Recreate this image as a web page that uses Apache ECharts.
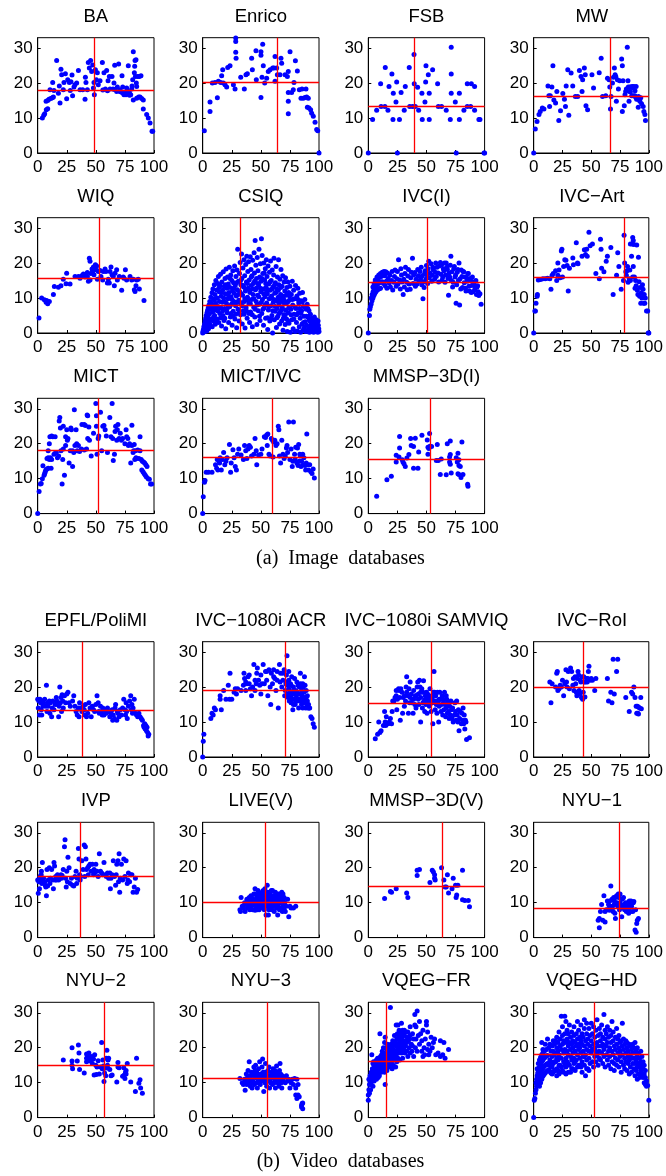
<!DOCTYPE html>
<html lang="en">
<head>
<meta charset="UTF-8">
<title>Databases scatter</title>
<script src="https://cdn.jsdelivr.net/npm/echarts@6/dist/echarts.min.js"></script>
<style>
  *{margin:0;padding:0;box-sizing:border-box}
  body{background:#fff}
  #main{width:666px;height:1176px}
</style>
</head>
<body>
<div id="main"></div>
<script>
var names = ["BA","Enrico","FSB","MW","WIQ","CSIQ","IVC(I)","IVC\u2212Art","MICT","MICT/IVC","MMSP\u22123D(I)",
  "EPFL/PoliMI","IVC\u22121080i ACR","IVC\u22121080i SAMVIQ","IVC\u2212RoI","IVP","LIVE(V)","MMSP\u22123D(V)","NYU\u22121",
  "NYU\u22122","NYU\u22123","VQEG\u2212FR","VQEG\u2212HD"]
var captions = ["(a)  Image  databases","(b)  Video  databases"]
var meanX = [48.7,64.2,39.5,66.1,53.3,32.3,50.4,78.4,52.4,59.7,53.6,38.4,71.1,54.4,43.1,36.4,53.7,63.9,74.4,57.6,55.4,15.5,52.3]
var meanY = [18.1,20.3,13.3,16.3,15.6,7.8,14.6,15.9,18.1,16.2,15.6,13.5,19,15.5,20,17.6,10,14.6,8.5,15,11.2,16.1,18]
var xTicks = [0,25,50,75,100]
var yTicks = [0,10,20,30]

// points of every database as x,y pairs
var BA = [4,10, 5.2,10.8, 6,11.2, 7.4,12.4, 8.6,12.7, 7.2,14.8, 8.6,15, 9.7,15.4, 11.2,15.6, 12.6,15.8, 13.5,16, 10.6,18.1, 12.9,20.2, 14,17.9, 16.3,26.5, 17.8,17.1, 18.6,19.2, 19.2,14.3, 20,24, 20.6,22.4, 22,18.1, 22.6,20.2, 23.8,22.7, 24.9,15.5, 25.8,21, 27.2,20.2, 28,17.9, 28.6,20.4, 29.5,22.3, 30,16.4, 31.2,18.9, 32,19.5, 33.5,20, 35,23.6, 36.4,18.1, 38.7,18.1, 40.7,15.4, 41,21.7, 41.5,20.2, 42.7,18.1, 43.5,25.9, 44.4,24.3, 45.5,26.5, 46.4,23.3, 47.3,25.2, 47.9,18.6, 48.4,20.2, 48.7,16.7, 49.6,23.8, 50.4,21, 51.3,23, 52.1,19.5, 53.6,20.7, 55.6,25.9, 57,23, 58.2,18.3, 59.3,23.6, 60.5,20.7, 61.6,21.9, 62.2,18.3, 63.9,21.9, 64.8,18.3, 65.6,20, 66.2,25.1, 67.9,17.6, 68.5,18.9, 69.6,25.5, 70.8,18.1, 72.5,22.1, 73.1,18.9, 74.2,16.7, 75.1,17.1, 75.9,16.7, 76.5,18.6, 77.1,17.9, 77.9,25, 78.8,17.3, 80,16.7, 80.8,18.3, 81.1,19.2, 81.7,21, 82.2,15.2, 82.2,29, 83.1,23, 83.4,24.8, 83.7,26.5, 84,21.9, 84.5,26.7, 84.8,20, 85.1,19, 85.1,15.7, 86,21.9, 86.8,16, 87.4,21.9, 88,16, 88.8,22.1, 89.4,15.6, 90.8,15.2, 90.8,12.6, 93.7,11, 95.1,10, 96.6,8.6, 98.3,6.2, 98.9,6.2, 56,18, 60,17.8, 66,18.2, 71,17.5, 73,17.2, 79,16.5]
var Enrico = [1.4,6.4, 6.3,11.9, 6.3,14.6, 8.3,20, 10.6,20.2, 12.6,15.8, 13.5,20.5, 15.5,20.2, 16.3,22.1, 17.2,23.8, 17.8,20, 19.2,19.5, 20.6,18.9, 21.5,24.5, 23.5,25, 26.4,19.5, 27.8,18.3, 28.4,32.9, 28.4,31.9, 28.4,28.8, 28.7,27.1, 32.7,21.7, 35.8,18.3, 37.2,22.4, 38.4,22.7, 42.1,27.1, 42.7,23.8, 45.8,29.3, 46.1,21, 50.1,29, 50.1,28, 50.1,15.9, 51,21.7, 51.6,31.1, 52.1,25, 53,33.1, 53.3,20, 55,21.4, 56.4,23.3, 57.9,23.8, 60.2,24.3, 61.3,24.3, 62.2,27.6, 62.2,20.5, 63.6,24.3, 64.2,22.4, 66.5,22.4, 67.3,27.1, 67.9,25.7, 70.8,22.4, 72.8,21.9, 73.6,23.3, 73.6,17.3, 73.6,14.8, 73.6,11.2, 75.1,29, 76.5,17.3, 77.9,18.1, 78.5,20.2, 79.7,26.4, 81.4,23.5, 83.1,18.1, 84.5,15.7, 85.4,18.3, 86.5,15.7, 88,15.9, 88.8,18.3, 89.4,16, 90.8,15.7, 90,13.1, 91.4,12.9, 92.8,12.4, 93.7,11.4, 95.1,10.5, 96.6,8.8, 98,6.7, 98.9,6.4, 100,0]
var FSB = [0,0, 3.7,9.6, 7.2,12.2, 10.6,19.8, 11,13.3, 14.3,13.3, 14.6,24.5, 16.9,12.2, 17.8,19, 20.3,22.6, 21.2,9.6, 21.5,17.1, 23.8,14.6, 24.4,20.3, 25,0, 26.8,9.6, 28.2,17.3, 30.9,12.2, 31.8,19, 35.2,24.5, 35.6,13.3, 38.1,13.3, 39.3,28.2, 39.5,19.8, 40.4,13.3, 42.4,18.8, 43.3,12.2, 46.1,17.1, 46.4,9.6, 48.7,14.6, 49.3,20.3, 49.6,25, 51.6,22.4, 52.4,9.6, 52.4,17.1, 55.3,23.8, 59.6,19.8, 60.2,13.3, 63,13.3, 67,12.2, 70.5,9.6, 71.3,30.3, 71.3,22.6, 71.3,17.1, 74.8,14.6, 75.6,0, 78.3,9.6, 78.3,17.1, 82.2,12.2, 85.1,19.8, 85.1,13.3, 88,13.3, 88.6,19.8, 91.4,19, 91.4,12.2, 95.1,9.6, 96,9.6, 100,0, 99.5,0]
var MW = [0,0, 1.4,6.9, 2.9,9, 4.6,11, 5.7,11.9, 7.5,12.9, 8.9,12.6, 12.4,19.2, 13.2,16.4, 14.4,16.4, 13.8,13.3, 15.8,18.9, 16.7,25, 17.5,15.2, 19,14.3, 20.1,17.6, 21.8,9.3, 23.3,12.1, 25.3,17, 26.7,15.4, 27.6,13.3, 28.2,19.2, 29.6,23.8, 30.5,10.8, 32.5,22.9, 33.9,19.2, 36.2,16.2, 38.2,16.2, 39.7,23.6, 41.1,21.9, 42,17.6, 42.5,21, 44,24.3, 44.8,22.4, 45.4,13.5, 46.8,12.4, 50.6,22.4, 52,18.6, 56.9,23, 58.6,27.1, 59.8,16.2, 62.6,16.4, 64.1,21.4, 65.5,21, 66.1,18.9, 66.7,12.6, 67.2,16.2, 68.4,20, 69.3,21.7, 70.1,24.3, 70.7,22.4, 71.3,21.9, 71.8,14.8, 72.7,21, 73.6,18.3, 74.7,20.7, 76.4,26.9, 77,25, 77,11.9, 77.6,20.7, 78.7,13.5, 79.3,16.7, 79.9,17.6, 80.5,18.3, 81.3,30.3, 81.9,20.7, 82.2,18.9, 82.8,14.8, 83.3,17.6, 83.6,18.9, 84.5,18.9, 85.1,16.4, 85.6,19, 86.5,16.4, 87.1,19, 87.9,16.4, 88.5,16, 89.4,15.4, 90.8,15.4, 90.8,13.1, 92.2,14.8, 93.7,14.1, 95.1,13.3, 95.7,11.9, 96.6,11, 97.1,9.3, 84,17.5, 86,18.7, 89,19, 91,16.2, 93,15.8, 88,17.8]
var WIQ = [1.1,4.3, 3.4,10, 5.7,9.5, 7.2,8.8, 8.6,8.4, 10,9, 7.7,9.3, 13.5,11, 14.3,13.3, 17.8,13.1, 20,13.5, 22,15.4, 24.9,17.1, 24.4,14.1, 27.8,14, 32.1,16.2, 35,16.2, 36.4,15.7, 37.8,16.4, 39.3,16.9, 40.7,16, 41.5,16.7, 42.7,17.3, 42.7,16.2, 43.6,14.8, 44.4,21.4, 45,20.5, 45,15.2, 45.8,17, 46.7,18.3, 47.3,17.6, 47.9,18.9, 48.4,16.7, 49,18.6, 49.6,19.5, 50.1,18.1, 50.7,19.2, 51.3,15.4, 52.1,17.6, 53.6,17.9, 54.4,16.2, 55.9,15.2, 56.4,17.6, 57.9,18.3, 58.7,17.6, 59.9,14.3, 60.7,15.4, 61.6,14.3, 62.2,17.6, 63,18.9, 63.9,16.7, 65,16.2, 65.9,13.5, 66.5,17.1, 67.9,18.1, 68.5,15.2, 70.2,16.2, 72.2,12.2, 73.6,16, 74.2,15.7, 75.4,18.1, 76.5,15.2, 79.4,16.2, 80.8,15.2, 82.2,15.4, 83.1,12.4, 83.7,11.9, 84.5,13.5, 85.1,15.2, 86.5,15.4, 87.4,12.6, 91.4,9.3]
var CSIQ = [0,0, 0.3,0.5, 0.6,1, 0.8,0.3, 1,1.8, 1.2,0.8, 1.5,2.6, 1.7,1.3, 2,3.4, 2.2,0.5, 2.4,2, 2.6,4.2, 2.8,1.2, 3,5, 3.2,2.8, 3.5,0.6, 3.7,5.8, 3.9,3.5, 4.2,6.5, 4.4,2, 4.6,4.5, 4.8,7.2, 5,1.2, 5.2,3.2, 5.4,8,
  5.8,5.5, 6.1,9, 6.4,2.5, 6.8,6.8, 7,10.2, 7.3,4, 7.6,8.3, 8,11.5, 8.2,1.8, 8.5,6, 8.8,12.6, 9,3.5, 9.3,9.5, 9.6,7.5, 10,13.8, 10.2,5, 10.5,11, 10.8,2.5, 11,8.5, 11.3,15, 11.6,6.5, 12,12.3, 12.3,4, 12.6,10, 12.9,14.2, 13.2,7.6, 13.5,16.2, 13.8,3, 14.1,11.8, 14.4,9, 14.7,5.6, 15,13.5,
  15.3,16.8, 15.6,7.2, 15.9,10.5, 16.2,2, 16.5,14.6, 16.8,8.8, 17.1,12.2, 17.4,5, 17.7,17.5, 18,10, 18.3,3.6, 18.6,13.3, 18.9,7, 19.2,15.6, 19.5,11.2, 19.8,1.2, 20.1,18.3, 20.4,8.5, 20.7,12.8, 21,5.8, 21.3,16, 21.6,9.8, 22,14, 22.3,3, 22.6,11.6, 22.9,18.8, 23.2,7.5, 23.5,13, 23.8,4.6, 24.1,16.6, 24.4,10.4, 24.7,8.2, 25,15, 25.3,2.2, 25.6,12, 25.9,17.8, 26.2,6.2, 26.5,14.4, 26.8,9, 27.1,11.4, 27.4,19.2, 27.7,4, 28,13.6, 28.3,7.8, 28.6,16.2, 28.9,10.6, 29.2,1.5, 29.5,18, 29.8,12.4, 30.1,24, 30.4,6.8, 30.7,14.8, 31,9.4, 31.3,3.4, 31.6,17, 31.9,11.8, 32.2,20.2, 32.5,5.2, 32.8,13.8, 33.1,8.2, 33.4,22.6, 33.7,15.6, 34,2.6,
  34.3,10.8, 34.6,18.6, 34.9,6.4, 35.2,13.2, 35.5,21, 35.8,9, 36.1,16.4, 36.4,1.4, 36.7,12, 37,19.6, 37.3,7.2, 37.6,14.6, 37.9,22, 38.2,4.2, 38.5,10.2, 38.8,17.6, 39.1,12.8, 39.4,20.4, 39.7,8.4, 40,15.2, 40.3,3, 40.6,11.6, 40.9,21.8, 41.2,6, 41.5,18.2, 41.8,13.6, 42.1,9.6, 42.4,16.4, 42.7,1.8, 43,20.8, 43.3,11, 43.6,14.2, 43.9,7.4, 44.2,23, 44.5,17.2, 44.8,4.6, 45.1,26.5, 45.4,12.4, 45.7,19.4, 46,9, 46.3,15.6, 46.6,2.4, 46.9,21.6, 47.2,10.8, 47.5,17.8, 47.8,6.4, 48.1,13.8, 48.4,24, 48.7,8.2, 49,16, 49.3,3.6, 49.6,19.8, 49.9,11.8, 50.2,14.8, 50.5,27, 50.8,5.6, 51.1,22.2, 51.4,9.6, 51.7,17, 52,12.6, 52.3,2.2, 52.6,20, 52.9,7.2, 53.2,15.2, 53.5,10.4, 53.8,18.4, 54.1,4.2, 54.4,13, 54.7,21,
  55,8.6, 55.3,16.2, 55.6,11.2, 55.9,1, 56.2,19.2, 56.5,6.6, 56.8,14, 57.1,9.8, 57.4,17.4, 57.7,3.4, 58,12.2, 58.3,20.6, 58.6,7.8, 58.9,15, 59.2,10.6, 59.5,5, 59.8,18, 60.1,0, 60.4,13.2, 60.7,8.8, 61,16.6, 61.3,21.4, 61.6,3.8, 61.9,11.4, 62.2,6.2, 62.5,14.4, 62.8,9.4, 63.1,19, 63.4,1.6, 63.7,12.6, 64,7, 64.3,16, 64.6,4.8, 64.9,10.2, 65.2,21, 65.5,13.8, 65.8,8, 66.1,2.6, 66.4,15.4, 66.7,6, 67,11, 67.3,18.2, 67.6,9, 67.9,3.4, 68.2,13.4, 68.5,7.2, 68.8,16.4, 69.1,0.8, 69.4,10.4, 69.7,5.2, 70,14.6, 70.3,8.4, 70.6,12, 70.9,2.4, 71.2,15.8, 71.5,6.6, 71.8,10.8, 72.1,4, 72.4,13, 72.7,0.4, 73,8.8, 73.3,14.6, 73.6,5.8, 73.9,11.6, 74.2,2.8, 74.5,9.4,
  75,13.4, 75.4,0.2, 75.8,6.8, 76.2,11, 76.6,3.8, 77,14.8, 77.4,8, 77.8,1.2, 78.2,12.2, 78.6,5.4, 79,9.8, 79.4,0.4, 79.8,13.6, 80.2,7, 80.6,3, 81,10.6, 81.4,0.6, 81.8,12.8, 82.2,5.8, 82.6,8.6, 83,1.8, 83.4,11.4, 83.8,4.2, 84.2,0.2, 84.6,9.2, 85,6.4, 85.4,2.6, 85.8,11.6, 86.2,0.8, 86.6,7.6, 87,4.8, 87.4,1.6, 87.8,9.6, 88.2,3.2, 88.6,0.4, 89,6.8, 89.4,2.2, 89.8,8.2, 90.2,0.6, 90.6,4.6, 91,1.2, 91.4,6.4, 91.8,0.2, 92.2,3.4, 92.6,5.4, 93,0.8, 93.4,2.8, 93.8,4.2, 94.2,0.4, 94.6,1.8, 95,3.6, 95.4,0.2, 95.8,2.6, 96.2,1, 96.6,3.2, 97,0.4, 97.4,1.6, 97.8,2.4, 98.2,0.6, 98.6,1.8, 99,0.2, 99.4,2.2, 99.8,1.2, 100,0.4,
  6,3.8, 7.9,7, 9.4,4.6, 10.6,9.8, 11.8,3.2, 13,6.4, 14.2,13, 15.4,4.4, 16,11.6, 17.2,6.4, 18.4,9, 19,4.2, 19.6,13.8, 20.8,6.8, 21.4,11, 22.1,7.6, 23,10, 23.6,15.6, 24.2,5.6, 25.2,9.6, 26,4.8, 26.6,12.8, 27.6,8.4, 28.4,5.4, 29,14.4, 29.8,8.8, 30.6,11, 31.2,5.8, 32,8.8, 32.6,15, 33.2,11.2, 34,7.8, 34.8,13.6, 35.6,5.4, 36.2,9.8, 37,12.6, 37.8,6.2, 38.4,14.2, 39,9.4, 39.8,5.6, 40.4,12.2, 41,8.4, 41.8,16, 42.6,5.2, 43.2,12.6, 44,9.8, 44.6,14.8, 45.2,6.8, 46,12.8, 46.8,8, 47.4,14.2, 48.2,10.4, 48.8,4.8, 49.6,12.8, 50.4,8.8, 51,15.6, 51.8,6.8, 52.4,11.2, 53,17.2, 53.6,8, 54.2,14.2, 55,11.8, 55.8,4.4, 56.4,12.4, 57,7.6, 57.8,14.6, 58.4,10, 59,4, 59.6,12.6, 60.2,6.4, 61,9.6, 61.8,13.8, 62.4,7.6, 63,11.6, 63.8,4.4, 64.4,9, 65,12.2, 65.6,5.6, 66.4,9.8, 67.2,13, 67.8,6.6, 68.6,10.6, 69.4,4.2, 70.2,9.4, 71,5.2, 71.8,8.6, 72.6,11, 73.4,3.4, 74,7.2, 74.8,10.6, 76,5.2, 77.2,9.6, 78.4,4, 79.6,7.4, 80.8,5.2, 82,9.6, 83.2,7, 84.4,5.6, 85.6,8.8, 86.8,3, 88,7.4, 89.2,4.8, 90.4,7, 91.6,3.8, 92.8,2, 94,3.2, 96,4.6, 97.6,3.8, 99.2,3.4]
var IVC_I = [0,0, 1,5, 1.3,6.8, 1.8,7.5, 2.5,8.3, 3.2,9.2, 4,10, 4.8,10.7, 5.6,11.3, 6.5,11.8, 7.5,12.2, 8.5,12.5, 9.5,12.7, 10.5,12.8,
  2.5,10, 3.3,11, 4.1,11.8, 5,12.5, 6,13.1, 7,13.6, 8,14, 9,14.3, 10,14.5, 11,14.6, 12,14.7,
  4,13.2, 5,14, 6,14.6, 7,15.1, 8,15.5, 9.5,15.9, 11,16.2, 12.5,16.4, 14,16.4,
  6,15.2, 7.5,16, 9,16.6, 10.5,17, 12,17.4, 13.5,17.6, 15,17.5, 16.5,17.2,
  13,14.2, 14.5,13.5, 15.5,14.8, 16,12.8, 17,15.6, 18,14.3, 18.5,16.5, 19,13.2, 20,15, 20.5,17.6, 21,12.3, 22,14.5, 22.5,16.2, 23,18, 24,13.4, 24.5,15.5, 25,17.6, 25.5,14, 26,21, 27,15.2, 27.5,12.6, 28,18.4, 28.5,16.6, 29,14.6, 30,11, 30.5,15.4, 31,13.2, 31.5,17, 32,18.8, 33,14.5, 33.5,12.4, 34,16.3, 34.5,18.2, 35,14, 36,12.5, 36.5,15.8, 37,17.4, 38,21.4, 38.5,14.2, 39,16.6, 40,17.3, 40.5,13.4, 41,15.4, 42,14, 42.5,18.2, 43,16.4, 44,14.8, 44.5,17.6, 45,15.6, 45.5,18.8, 46,13.8, 46.5,16.4, 47,9.8, 47.5,14.6, 48,13, 48.5,17, 49,17.8, 49.5,15.4, 50,19.3, 50.5,16.6, 51,14.2, 51.5,18.4, 52,20.5, 52.5,15.8, 53,17.2, 54,19.8, 54.5,14.8, 55,16.5, 55.5,18.8, 56,18, 57,15.4, 57.5,17.4, 58,20, 58.5,16.2, 59,18.8, 60,17.2, 60.5,14.6, 61,19.2, 62,20.2, 62.5,16.8, 63,19.5, 63.5,15.2, 64,16, 64.5,18.4, 65,17.8, 65.5,20, 66,14.5, 66.5,16.6, 67,20, 67.5,18.8, 68,18.2, 68.5,15.6, 69,10.8, 69.5,17.2, 70,16, 70.5,19.4, 71,22, 71.5,15, 72,17.5, 72.5,13.2, 73,14.5, 73.5,18.4, 74,19, 74.5,16, 75,16.5, 75.5,8.5, 76,13.8, 76.5,17.4, 77,18.2, 77.5,15, 78,20, 78.5,8, 79,15.5, 79.5,12.6, 80,18, 80.5,16.2, 81,13, 81.5,17.6, 82,17.5, 82.5,14.4, 83,16, 83.5,12.8, 84,12, 84.5,15.8, 85,14.8, 85.5,17, 86,17, 86.5,13.4, 87,12, 87.5,15.6, 88,15, 88.5,11.6, 89,13.6, 89.5,16, 90,11.8, 90.5,14.6, 91,14, 91.5,12.4, 92,13, 92.5,15, 93,11, 93.5,13.2, 94,13.5, 94.5,11.8, 95,10.7, 96,11.2, 97,8.2]
var IVC_Art = [0,0, 1,6.3, 1.5,6.3, 2,8.5, 3,10.5, 3.2,11, 4,15.2, 6,15.3, 8,15.5, 10,15.5, 12,15.7, 14,15.5, 15,12.5, 16,16.5, 17,17, 19,17.8, 20,15, 21,20, 21,16.5, 22,18, 23,15.8, 24,23.5, 24.5,24, 25,16, 26,19, 27,21, 28,20.8, 29,19.3, 30,12, 31,18.5, 34,21.5, 34.5,19.5, 37,25.8, 38,20, 38.5,19.8, 42,22, 44,23.8, 45,22.5, 46,24, 46.5,22, 48,28.8, 49,25, 51,25.5, 54,17, 57,15.5, 58,26.8, 58.5,24, 59,18.5, 61,17.5, 63,20.5, 64,22, 67,24.5, 69,11, 72,16.5, 73,23, 74,19, 76,12.5, 78,15, 78.5,28, 79,20, 80,17.5, 80.5,16.5, 81,17.8, 81.5,19, 82,14.5, 83,15.5, 84,25.5, 85,22, 85.5,25.5, 86,27.3, 86.5,26.5, 87,25.3, 87.5,16, 88,12.8, 88.5,15, 89,13.5, 89.5,25.2, 90,12.2, 90.5,11, 91,21.7, 91.5,14.7, 92,10.5, 92.5,13, 93,8.5, 93.5,11.5, 94,10, 94.5,13.8, 95,12.5, 95.5,8.5, 96,11, 96.5,8.5, 97,10, 98,6.3, 99,6.3, 100,0, 99.5,0, 83.5,18, 86.5,19, 84,15, 86,16]
var MICT = [0,0, 1.2,6.3, 2.3,8.5, 3,8.6, 4,10, 4.5,13.7, 5.5,11, 6,11.5, 6.5,12, 7,12.5, 8,12.8, 9,13, 8,15.8, 9,16, 10,15.5, 11,16, 12,15.5, 11.5,13, 9,18, 10,20, 10.5,22, 12,22.2, 13,22, 14,17, 15,22, 15.5,17.5, 16,17.5, 17,16, 18,16.5, 18.5,26.5, 19,27.5, 19.5,24.5, 20,18, 21,8.5, 21.5,15.5, 22,18.5, 22,25, 23,11, 24,19.5, 24,22, 25,24, 25.5,21, 26,21.5, 27,14.5, 28,18, 28.5,24.5, 29,24, 30,13.5, 31,17.5, 31.5,29.7, 32,19.5, 33,24, 33.5,20, 34,18, 35,19.5, 36,17.8, 37.5,18.5, 38,25.5, 40,25.5, 41,25.2, 42,18.5, 42.5,28.2, 43,28, 43,21.5, 44,24.8, 44.5,21, 46,16.5, 48,23, 50,31.5, 50.5,28, 50.5,25, 51,17, 52,21.5, 52.5,22.2, 54,29, 56,25, 57,25.2, 58,24, 59,22.2, 62,27.5, 63,22, 64,31.5, 64.5,21.5, 65,15.2, 66,17, 66.5,23.5, 67,25, 68,21, 68.5,24, 69,25.5, 70,21.5, 71,23, 72,21, 73,21.5, 75,20, 76,24, 76.5,22, 77.5,21.5, 78,19.5, 79,20, 80,14.5, 81,25.3, 81,19.5, 82,17.5, 82.5,18, 83,19.8, 83.5,15.5, 84,18, 84.5,16, 85,15.8, 86,18.2, 87,15.8, 88,18, 88,22, 89,15.5, 89.5,12.5, 90,15, 90.5,12, 91,14.8, 91.5,11.5, 92,14.5, 92.5,11, 93,14, 93.5,10.5, 94,13.5, 95,10, 96,9.8, 97,8.5, 98,8.5, 30,18, 40,18.2, 55,18, 60,17.5]
var MICT_IVC = [0,0, 0.5,4.8, 1.5,9, 2,9.5, 3,11.8, 5,11.8, 8,11.8, 11,14, 12,13, 12.5,15.5, 13,12.5, 14,15, 14.5,14.5, 15,16, 16,12.5, 17,15.5, 18,17.5, 19,14, 20,15, 21,16, 23,19.8, 24,11.8, 24.5,14.5, 26,18.3, 27,16, 28,13.5, 29,12.5, 30,17, 31,18.5, 33,16.8, 35,15.5, 36,19.5, 37,18, 38,15.8, 39,18.5, 40,19.5, 41,19, 42,16.5, 44,17, 45,21.5, 46,18, 46.5,14, 48,16.8, 50,17, 51,18.5, 53,22, 54,21.8, 55,22.5, 55.5,19.5, 56,22.8, 57,17, 58,16.5, 59,21.5, 60,21, 60.5,16.2, 61,20.5, 62,21, 63,19.5, 64,20, 65,25, 65.5,24, 66,16.5, 67,14.5, 68,21, 69,17, 70,15.8, 71,16.5, 72,18.8, 72.5,19.5, 73,17.5, 74,26.2, 75,15.5, 76,18.5, 77,13.5, 77.5,15, 78,26.2, 79,17, 79.5,15.5, 80,19, 81,14.5, 81.5,18.8, 82,13.8, 82.5,19.8, 83,15, 83.5,17, 84,16.5, 84.5,13.5, 85,15, 86,17, 86.5,14, 87,16, 88,13.8, 88.5,12.5, 89,14.5, 89.5,22.8, 90,14, 91,12.5, 92,14, 93,12, 94,11.5, 95,12.8, 96,10.2]
var MMSP_I = [7.2,5, 16,9.7, 19.8,10.7, 24,14.8, 24,16.7, 26.4,16.2, 26.9,18.8, 26.9,22.1, 29.2,15.4, 29.8,14.8, 30.7,14.3, 31.8,13.5, 33.2,15.9, 34.9,16.9, 36.4,21.5, 36.9,19.5, 38.9,19.2, 38.9,13, 40.4,21.6, 42.7,13, 43.3,17.6, 46.1,22.4, 50.7,21.1, 51.3,19, 51.3,17, 52.1,18.6, 52.7,22.9, 53,19.3, 54.4,19.2, 58.5,15.2, 59.3,19.8, 60.2,15.2, 61.9,11.2, 62.7,15.6, 67,11.1, 67.9,20, 70.5,20.8, 69.9,16.2, 69.9,14.8, 70.5,14.1, 71.3,11.6, 70.5,16.9, 75.6,16, 76.5,14.8, 77.1,17.3, 77.9,15.4, 77.9,13.8, 79.1,13.5, 77.1,11.4, 77.9,11.2, 79.7,10.3, 80.5,20.5, 81.4,11.2, 85.4,8.4, 85.7,7.8]
var EPFL = [0,16.5, 0.5,14, 1,16, 1.5,12, 2,16.5, 2.5,15.5, 3,13.5, 3.5,12, 4,16, 4.5,14.5, 5,15.5, 6,16.5, 7,14.5, 7.5,20.5, 8,13, 8.5,15.5, 9,14.5, 10,16, 10.5,12.5, 11,15.5, 12,11.5, 12.5,14, 13,16, 14,13.5, 15,15, 16,17, 16.5,16, 17,15, 18,11.5, 18.5,14.5, 19,20, 19.5,15.5, 20,17, 20.5,13, 21,17.8, 21.5,16, 22,14, 23,17.5, 24,15.5, 25,18, 26,18.5, 27,15.5, 28,14.5, 30,16, 31,17.5, 32,14.5, 33,13, 34,12, 35,14, 35.5,11.5, 36,15.5, 37,14, 38,13, 39,14.5, 40,13.5, 40.5,12, 41,15, 42,11.5, 43,12.5, 44,15.5, 45,14, 46,11.5, 47,14.5, 48,13.5, 49,13, 50,15, 51,17.5, 52,15.5, 52.5,13, 53,12.5, 54,14.5, 55,13, 55.5,12, 56,14, 57,12, 58,13.5, 59,12.5, 60,14, 61,13, 62,11.5, 63,12.5, 64,13.5, 64.5,10.5, 65,12, 66,11, 66.5,14, 67,15, 68,10.5, 68.5,13, 69,12.5, 70,11.5, 71,13.5, 72,12, 73,14, 74,16.5, 75,13.5, 75.5,12, 76,15.5, 76.5,13, 77,11, 78,14.5, 79,16, 80,17.5, 80.5,13.5, 81,15, 81.5,12.5, 82,14, 83,16.5, 84,12.5, 85,12, 86,11.5, 87,12.5, 88,11.5, 89,11, 90,10.5, 91,9, 91.5,8.5, 92,9.5, 92.5,8, 93,9, 93.5,7.5, 94,8.5, 94.5,7, 95,6, 95.5,6.5]
var ACR = [0,0, 0.5,4.5, 1,6.5, 7,11, 8,12.5, 9,12, 10,14, 11,13.5, 15,16.5, 15,17.5, 16,13.5, 18,19, 20,16.5, 22,20.5, 23,16.5, 23.5,24, 25,16.5, 27,18.5, 28,19.5, 29,18, 30,19.5, 33,19, 35,20.5, 35.5,24, 36,22.5, 37,19, 38,21, 39,23, 40,23.5, 41,19.5, 42,17.5, 43,20, 44,26.5, 45,19, 46,21, 46.5,24, 47,25.5, 48,22, 49,20.5, 50,18, 51,21, 52,26.5, 53,21, 54,24.5, 55,22, 56,17.5, 57,25, 58,20, 58.5,15, 59,24, 60,21, 61,25, 62,22.5, 63,19, 64,24.5, 65,14, 66,26.5, 66.5,21.5, 67,24, 68,20, 69,22, 70,25, 70.5,17.5, 71,19, 72,23.5, 72.5,29, 73,20.5, 73.5,17, 74,22, 74.5,16, 75,18.5, 75.5,21, 76,15.5, 76.5,23, 77,18, 77.5,13.5, 78,20, 78.5,16.5, 79,22.5, 79.5,15, 80,19, 80.5,17, 81,21.5, 81.5,16, 82,18, 82.5,14, 83,20, 83.5,16.5, 84,24, 84.5,18, 85,15, 85.5,17.5, 86,14, 86.5,20, 87,16, 87.5,23, 88,15.5, 88.5,14, 89,17, 89.5,14.5, 90,16, 90.5,14, 91,15, 91.5,14, 92,14, 93,11.5, 94,11, 95,9.5, 96,8.5,
  71.5,21, 73,18, 74,19.5, 76,20.5, 77,16.5, 78,19, 79,18, 80,16, 81,18.5, 82,20.5, 83,18, 84,16, 85,19, 86,17, 87,18.5, 88,17, 89,19, 90,17.5, 76,17.5, 78,15, 82,16.5, 84,21, 86,21, 88,20.5, 72,21.5, 74,24.5, 69,24, 64,22, 61,23, 55,24.5, 50,23.5, 45,22, 40,21, 37,21.5]
var SAMVIQ = [6,5.2, 8,6.5, 9,10, 10,7, 11,7.5, 13,9, 14,13, 14.5,10, 15,9, 15.5,11.5, 17,9.5, 18,10, 19,11, 20,9.5, 20.5,13, 21,16, 22,16, 23,17, 24,17.5, 24,19, 24.5,13.5, 25,16.5, 26,19.5, 26.5,19, 27,17, 27.5,10.5, 28,19.5, 29,18.5, 29.5,12.5, 30,17, 31,14.5, 32,16, 32.5,20, 33,23, 34,17.5, 34.5,12.5, 35,19.5, 35.5,15.5, 36,21.5, 37,18, 38,16.5, 38.5,12.5, 39,19, 40,15, 40.5,17.5, 41,14, 42,20, 42.5,21.5, 43,18, 43.5,15, 44,22, 44.5,20, 45,17, 45,10, 46,19.5, 46.5,14, 47,18.5, 47.5,21.8, 48,16, 48.5,13, 49,17.5, 49.5,15, 50,18.5, 50.5,12.5, 51,16.5, 51.5,15.5, 52,17, 52.5,14.5, 53,19.5, 53.5,16, 54,13, 54.5,17.5, 55,15.5, 55.5,9.5, 56,18.5, 56.5,24.5, 57,16, 57.5,13.5, 58,17.5, 58.5,15, 59,12.5, 59.5,18.5, 60,16, 60.5,10, 61,14.5, 61.5,18.5, 62,16.5, 62.5,13, 63,15, 63.5,17.5, 64,12, 64.5,16.5, 65,13.5, 65.5,18.5, 66,15, 66.5,11.5, 67,14, 67.5,16.5, 68,12.5, 68.5,15.5, 69,13, 69.5,11, 70,14.5, 70.5,12, 71,16, 71.5,13.5, 72,11, 72.5,14, 73,10, 74,12, 74.5,15.5, 75,13, 75.5,10.5, 76,16, 76.5,12, 77,10, 77.5,13.5, 78,7.5, 78.5,11, 79,13, 80,9.5, 80.5,12.5, 81,10.5, 81.5,14, 82,9.5, 82.5,12, 83,8, 83.5,10.5, 84,10, 84.5,5, 87,5.5,
  31,17.5, 33,18.5, 36,17, 37,15.5, 39,16.5, 41,17.5, 43,16.5, 45,18.5, 47,15.5, 49,16.5, 51,18, 53,15, 55,17, 57,18.5, 59,16, 61,16.5, 63,16.5, 65,15.5, 67,17.5, 69,15]
var RoI = [14,21.5, 15,15.5, 16,21, 19,20, 20,24, 20.5,24.5, 21,19, 22,19.5, 23,20.5, 24,20, 25,22, 26,17.5, 27,21, 28,25, 28.5,21.5, 29,20, 30,24.5, 31,19.5, 32,25.5, 33,24.5, 34,20.5, 34.5,22.5, 35,19, 36,23, 36.5,21, 37,18.5, 37.5,17.5, 38,22.5, 38.5,24.5, 39,23.5, 39.5,19, 40,18, 40.5,22, 41,21.5, 41.5,17, 42,23, 42.5,16.5, 43,18.5, 43.5,23, 44,21.5, 44.5,17.2, 45,21.5, 46,22.5, 46.5,21.5, 47,22.5, 47.5,24.5, 48,26, 49,22, 50,22.5, 51,22, 53,19, 54,22.5, 64,22.5, 65,16, 67,18.5, 68,15.5, 69,28, 70,18, 72,24.5, 73,28, 80,17, 83,13, 85,18.5, 86,18, 87,20, 88,17, 89,14.5, 89.5,12.5, 90,14.5, 90.5,12.5, 91,14.3, 92,14, 93,17, 93.5,13.8, 91,12.3]
var IVP = [0,16.5, 0.5,12.7, 1,16, 1.5,14, 2,17.5, 2.5,16.5, 3,18, 3.2,19, 3.5,15.5, 4,21.5, 4.5,16, 5,17, 6,16, 6.5,15, 7,14.5, 7.5,12, 8,19.5, 8.5,14.8, 9,16.5, 10,20, 10.5,15.5, 11,17, 12,19.5, 13,16.5, 13.5,14, 14,21.5, 14.5,20.5, 15,16.5, 15.5,17.5, 16,16.5, 17,18, 18,16.5, 19,17, 20,18, 20.5,17, 21,17.8, 22,19.5, 23,26, 23.5,28, 24,17, 24.5,14.5, 25,19, 25.5,16, 26,23, 27,20, 28,15.5, 29,17, 30,15, 31,14.8, 32,17.5, 33,19, 33.5,15.5, 34,17, 35,25.5, 35.5,22.5, 36,18, 36.5,16.5, 37,17.5, 38,22, 39,19.5, 40,26.5, 40.5,17.5, 41,26, 41.5,22.5, 42,19.5, 43,20, 43.5,18, 44,20.5, 45,21, 46,19, 47,21, 48,18, 48.5,19.5, 49,18.5, 50,21, 51,19, 52,17.5, 53,24, 54,19, 55,18.5, 56,18, 57,21.5, 58,18, 59,17.5, 60,18.5, 61,17, 62,18.5, 62.5,14, 63,17, 64,18, 65,22, 66,17.5, 67,15, 67.5,18, 68,21, 69,22, 69.5,16, 70,24, 70.5,13, 71,17, 72,21, 73,16.5, 74,22.5, 75,17.5, 76,22, 77,15.5, 77.5,16.5, 78,18.5, 79,16, 80,18, 81,18, 82,13, 83,14.5, 84,17, 85,13, 86,13.8]
var LIVE = [32,8, 32.5,7.5, 33,11.5, 34,9, 35,8.5, 36,10, 36.5,7.5, 37,9.5, 38,11, 38.5,8.5, 39,10.5, 39.5,9, 40,11.5, 40.5,8, 41,10, 41.5,12, 42,9, 42.5,10.5, 43,8, 43.5,11, 44,12.5, 44.5,9.5, 45,14, 45.5,10.5, 46,8.5, 46.5,12, 47,9.5, 47.5,13.5, 48,11, 48.5,8, 49,10, 49.5,12.5, 50,9, 50.5,11, 51,13, 51.5,8.5, 52,10.5, 52.5,12, 53,9.5, 53.5,14, 54,11, 54.5,6.5, 55,9, 55.5,15, 56,11.5, 56.5,6.5, 57,10, 57.5,12.5, 58,9, 58.5,11, 59,13.5, 59.5,8, 60,10.5, 60.5,12, 61,9.5, 61.5,7.5, 62,11, 62.5,13, 63,10, 63.5,8.5, 64,12, 64.5,6.5, 65,9.5, 65.5,11, 66,10, 66.5,12.5, 67,8.5, 67.5,10.5, 68,13, 68.5,7.5, 69,9, 69.5,11, 70,8, 70.5,10, 71,7.5, 72,9, 73,11, 74,6, 75,9, 76,8.5, 78,8.5, 80,9,
  40,9.5, 42,11.5, 44,10.5, 45,7.8, 46,10, 47,11.5, 48,9.5, 49,12, 50,10, 51,11, 52,8.5, 53,11.5, 54,9.5, 55,12.5, 56,9, 57,11, 58,12.5, 59,10, 60,9, 61,11.5, 62,9, 63,11.5, 64,9.5, 65,12.5, 66,8, 67,10, 68,11, 69,12.5, 70,11.5, 43,10, 45,12.5, 47,8, 49,8.5, 51,9.5, 53,8, 55,10.5, 57,8, 59,11.5, 61,10, 63,9, 65,10.5, 67,11.5, 46,11, 48,12.5, 50,12.5, 52,13.5, 54,12.5, 56,13, 58,10.5, 60,13.5, 62,12, 64,10.5]
var MMSP_V = [14,11.2, 19,13.2, 20,13, 24,14, 33,12.8, 34,11.5, 42,19.3, 42,17.8, 44,19.5, 53,15.8, 55,19.3, 56,18.8, 57,18, 57,17, 57.5,16.5, 63,20, 65,16.5, 67,14.5, 68,18, 69,12.8, 72,14, 73,17, 75,15, 75.5,11.5, 76,12.2, 77,15, 81,19.3, 81,10.8, 83,10.6, 86,10.6, 87,8.8, 66,14.5]
var NYU1 = [56,5, 57,5.5, 57,2.8, 58,7.5, 59,9.5, 60,5, 61,12, 62,4.5, 62,7.5, 63,8, 64,10.5, 64.5,8, 65,9.5, 66,10.5, 66,7.8, 67,14.8, 67,8.5, 68,11, 68.5,9, 69,7.5, 69.5,11.5, 70,9.5, 70.5,7, 71,11.5, 71,5.5, 72,10, 72,12, 73,9, 73.5,12.5, 74,11.5, 74.5,8, 75,12.5, 75,10, 76,9, 76.5,6, 77,11, 77.5,8.5, 78,11.5, 78.5,9.5, 79,8, 80,10, 80.5,7.5, 81,9, 81.5,8.5, 82,10, 82.5,7, 83,9.5, 84,7.5, 84.5,10.5, 85,9, 86,7.5, 86.5,10, 87,10.3, 88,2.2, 89,1.5, 89.5,4, 90,5, 91,5.5, 88.5,8, 79.5,9.7, 82,8.3, 83,10.5, 85.5,10, 73,9.8, 70,10.5, 68,8, 66,9]
var NYU2 = [22,16.5, 29.5,16.2, 29.5,20, 29.5,15, 30,14, 34,16.2, 35,20.8, 35.5,18.5, 36,13.8, 40,12.8, 42,16, 42,17, 43,17.5, 44,18.5, 44.5,17, 45,16.2, 46,16.5, 46.5,17.5, 47,15.5, 48,16.8, 48.5,12.2, 49,18, 50,15, 50.5,12.3, 51,14.5, 52,16.3, 53,12.5, 55,21.5, 55.5,14, 56,16.5, 56.5,14.8, 57,10.3, 57.5,12.8, 58,14.2, 58.5,12, 59,17, 59.5,19.3, 60,15, 60.5,16.5, 61,17, 62,13.8, 63,12, 64,12.2, 68,10.2, 69,14.5, 69,15.8, 70,14.3, 74,14.3, 74.5,12.2, 75,11.2, 75.5,13, 76,12.5, 77,15.5, 80,10.2, 84,7.5, 85,17, 87,9.8, 88,10.8, 88.5,8.5, 90,7, 42,18.2, 44,16.8, 54,14.5, 60,14.2, 73,11.8, 76,13.5]
var NYU3 = [32,11.2, 34,10, 35,9.5, 36,11, 36.5,7.8, 37,10.2, 37.5,12.5, 38,9.5, 38.5,11.5, 39,13.5, 39.5,10, 40,16, 40.5,12, 41,9, 41.5,11, 42,13, 42.5,8.5, 43,10.5, 43.5,12.5, 44,14.5, 44.5,9.5, 45,11.5, 45.5,15, 46,10, 46.5,13, 47,8.5, 47.5,11, 48,14, 48.5,12, 49,16, 49.5,9.5, 50,12.5, 50.5,10.5, 51,14.5, 51.5,16.8, 52,11.5, 52.5,7.5, 53,13, 53.5,10, 54,15.5, 54.5,12, 55,9, 55.5,11, 56,13.5, 56.5,10.5, 57,14.5, 57.5,8.5, 58,12, 58.5,10, 59,13, 59.5,11.5, 60,9.5, 60.5,14, 61,12, 61.5,10, 62,13.5, 62.5,8.5, 63,11, 63.5,14.8, 64,12.5, 64.5,10, 65,13, 65.5,9, 66,11.5, 66.5,15.5, 67,12.5, 67.5,10, 68,8.5, 68.5,12, 69,10.5, 70,11.5, 71,10, 72,12, 73,10.5, 74,11, 75,8.5, 76,10, 77,11, 78,9.5, 79,11.2, 80,8.5, 81,11, 82,9.5, 80,6.5, 82,6.5, 83,6, 81,5.5, 85,3.5, 85.5,4, 86,2.5, 85,3, 86,4.2,
  40,11, 42,10, 44,12, 46,11.5, 48,10, 50,11, 52,13, 54,10.5, 56,12, 58,11, 60,12.5, 62,11, 64,11.5, 66,13.5, 45,13.5, 47,12.5, 49,11.5, 51,12.5, 53,11.5, 55,13, 57,11.5, 59,10, 61,13, 63,12.5, 65,11, 67,10.8]
var VQEG_FR = [0,5, 0,6.5, 0.5,8, 0.5,11, 1,7, 1,9.5, 1.5,10.5, 1.5,12, 2,8, 2,11.5, 2.5,9.5, 2.5,13, 3,10.5, 3,12.5, 3,18, 3.5,11.5, 3.5,14, 4,9, 4,13, 4,15.5, 4.5,12, 4.5,16, 5,10.5, 5,13.5, 5,15, 5.5,11.5, 5.5,14.5, 6,12.5, 6,16, 6.5,13.5, 6.5,15, 7,11, 7,14, 7,16.5, 7.5,12.5, 7.5,15.5, 8,13, 8,17, 8.5,14.5, 8.5,11.5, 9,15.5, 9,13, 9,17, 9.5,12, 9.5,14.5, 10,16, 10,13.5, 10,24, 10.5,15, 10.5,17.5, 11,13, 11,16, 11.5,14.5, 11.5,18, 12,16.5, 12,13.5, 12,19, 12.5,15, 12.5,17.5, 13,14, 13,16.5, 13,20, 13.5,15.5, 13.5,18.5, 14,13, 14,17, 14,21.5, 14.5,9.5, 14.5,16, 14.5,23, 15,15, 15,18, 15,20, 15.5,14.5, 15.5,17, 16,16, 16,19.5, 16,13.5, 16.5,18, 16.5,21, 17,15, 17,17, 17.5,19, 17.5,16, 18,14.5, 18,20, 18,17.5, 18.5,16.5, 19,31.5, 19,19, 19,15.5, 19.5,21, 19.5,17, 20,18.5, 20,16, 20.5,20, 20.5,14, 21,17.5, 21,22, 21.5,19.5, 21.5,15, 22,18, 22,21, 22.5,16.5, 22.5,23.5, 23,19, 23,17, 23.5,21.5, 23.5,14.5, 24,26.5, 24,20.5, 24,18, 24.5,22.5, 24.5,16, 25,19.5, 25,24, 25.5,26.5, 25.5,21, 25.5,17, 26,18.5, 26,23, 26.5,20, 26.5,25, 27,22, 27,16.5, 27.5,19, 27.5,23.5, 28,24.5, 28,21, 28.5,27, 28.5,18.5, 29,23, 29,20, 29.5,25, 29.5,17, 30,22, 30,24, 30.5,19.5, 30.5,21, 31,25, 31,23.5, 31.5,18.5, 32,22, 32,20.5, 32.5,24.5, 33,21.5, 33,19, 33.5,23, 34,24.5, 34,17.5, 34.5,22, 35,20, 35.5,22.5, 36,23.5, 36,18.5, 37,21, 37.5,19, 38,24, 39,22.5, 39,17.5, 40,29.5, 40,26.5, 40.5,20, 41,26, 41,22.5, 42,30.5, 42,19, 43,23.5, 44,21, 45,24, 46,19, 47,17.5, 48,20, 48.5,18, 49,22.5, 50,27.5, 50,26.5, 51,19.5, 51,24.5, 52,18, 53,19, 54,23, 55,20, 56,21.5, 58,18, 60,18.5, 62,17.5, 65,21.5, 66,17, 69,19.5, 44,27.5, 36,26, 38,20.5, 46,22, 47,25, 52,21, 57,22.5, 62,22, 64,18]
var VQEG_HD = [0,0, 0.5,5, 1,5.5, 1.5,7, 2,8, 2.5,9, 3,9.5, 3.5,10.5, 4,11, 4.5,11.5, 5,12, 5.5,12.5, 6,13, 6.5,13.3, 7,13.7, 8,14.2, 9,14.6, 10,15, 11,15.3, 12,15.5,
  2,10, 2.5,11, 3,12, 3.5,12.8, 4,13.5, 4.5,14, 5,14.5, 6,15.3, 7,16, 8,16.5, 9,17, 10,17.3, 11,17.6, 12,17.8,
  3,14, 4,15.5, 5,16.5, 6,17.3, 7,18, 8,18.5, 9,19, 10,19.3, 11,19.5,
  5,9, 6,10, 7,11, 8,11.8, 9,12.3, 10,12.8, 11,13.2, 12,13.5, 13,13.6, 14,13.2, 15,12.8,
  7,21.5, 8,19.5, 10,21, 12,22.5, 13,20, 14,21, 15,19, 16,20.5, 17,22, 18,18, 19,16, 20,17,
  15,16, 16,14.5, 16,17.5, 17,15.5, 17,19, 18,21, 18,13.5, 19,18.5, 19,22, 20,14, 20,20, 20,23, 21,16.5, 21,19, 21,21.5, 22,12.5, 22,18, 22,24.5, 23,15, 23,20.5, 23,22.5, 24,17, 24,19.5, 24,29, 25,13.5, 25,21, 25,23.5, 25,26, 26,16, 26,18.5, 26,22, 27,19.5, 27,24, 27,29, 28,14.5, 28,17, 28,21.5, 28,27.5, 29,16, 29,19, 29,22.5, 29,25, 30,13, 30,18, 30,20.5, 30,24, 31,15, 31,21.5, 31,26.5, 32,17.5, 32,19.5, 32,23, 33,14, 33,16.5, 33,21, 33,24.5, 34,18.5, 34,22, 34,20, 35,15.5, 35,17, 35,23.5, 35,26, 36,19, 36,21.5, 36,13.5, 37,16.5, 37,20.5, 37,24, 38,18, 38,22.5, 38,27.5, 39,15, 39,19.5, 39,21, 39,25, 40,17, 40,23, 40,20, 41,14.5, 41,18.5, 41,22, 41,26.5, 42,16, 42,21, 42,24, 43,19, 43,23, 43,17.5, 44,15, 44,20.5, 44,25.5, 44,28, 45,18, 45,22, 45,12, 46,16.5, 46,19.5, 46,24, 46,27, 47,14, 47,21, 47,22.5, 48,17, 48,19, 48,25.5, 49,15.5, 49,20.5, 49,23.5, 50,18.5, 50,22, 50,27, 51,16, 51,19.5, 51,24, 52,14.5, 52,21, 52,26, 53,17.5, 53,20, 53,23, 54,16, 54,19, 54,25, 55,18, 55,21.5, 55,28, 56,15, 56,20.5, 56,23.5, 57,17, 57,19, 57,25.5, 58,16.5, 58,22, 58,24, 59,18.5, 59,20.5, 59,26.5, 60,15.5, 60,21, 60,23, 61,17.5, 61,19.5, 61,29.5, 62,14.5, 62,22.5, 62,25, 63,18, 63,20.5, 63,24, 64,16.5, 64,21.5, 64,26, 65,15, 65,19, 65,23, 66,17.5, 66,20, 66,25, 67,14, 67,21.5, 67,23.5, 68,16, 68,19, 68,27.5, 69,18, 69,22, 69,24.5, 70,15.5, 70,20.5, 70,13.5, 71,17, 71,19.5, 71,23, 72,15, 72,21, 72,25.5, 73,16.5, 73,18.5, 73,22.5, 74,14.5, 74,20, 74,23.5, 75,17.5, 75,19, 75,21.5, 76,13, 76,16, 76,22, 77,18, 77,20.5, 77,27, 78,15, 78,19.5, 78,22.5, 79,14, 79,17, 79,21, 80,16, 80,18.5, 80,22, 81,13.5, 81,20, 81,21.5, 82,15.5, 82,17.5, 82,19, 83,12.5, 83,16.5, 83,21, 84,14.5, 84,18, 84,20.5, 85,13, 85,17, 85,19.5,
  86,15.5, 86,18.5, 86,21, 87,14, 87,17, 87,20, 88,12, 88,15.5, 88,18.5, 88,21.5, 89,13.5, 89,16.5, 89,19.5, 90,11, 90,14.5, 90,17.5, 90,20, 91,12.5, 91,15.5, 91,18.5, 92,11.5, 92,14.5, 92,17, 93,13.5, 93,16, 93,19, 94,12.5, 94,15, 94,17.5, 95,11.5, 95,14, 95,16, 96,10, 96,12.5, 96,15, 97,9.5, 97,11.5, 97,13.5, 98,9, 98,10.5, 99,9.2, 100,5,
  13,15, 14,16.5, 15,14.5, 16,12.5, 17,13, 18,16, 19,13.5, 20,12, 21,13.5, 22,15, 23,13, 24,14.5, 26,13, 27,15, 28,12.5, 30,15.5, 32,13, 34,14, 36,16, 38,14.5, 40,15, 42,13, 44,17.5, 46,14, 48,13.5]

var sets = [BA,Enrico,FSB,MW,WIQ,CSIQ,IVC_I,IVC_Art,MICT,MICT_IVC,MMSP_I,
  EPFL,ACR,SAMVIQ,RoI,IVP,LIVE,MMSP_V,NYU1,NYU2,NYU3,VQEG_FR,VQEG_HD]

function pairs(a){
  var out=[]
  for(var i=0;i<a.length;i+=2) out.push([a[i],a[i+1]])
  return out
}

var colLeft=[37.7,202.7,368.3,533.7]
var rowTop=[37.7,217.7,398.3,641.7,822.3,1002.3]
var W=116.3, H=115.3
var sans='"Liberation Sans", Arial, Helvetica, sans-serif'

var grids=[],xAxes=[],yAxes=[],series=[],titles=[]
names.forEach(function(name,i){
  var row,col
  if(i<11){row=Math.floor(i/4);col=i%4}
  else{row=3+Math.floor((i-11)/4);col=(i-11)%4}
  var left=colLeft[col], top=rowTop[row]
  grids.push({left:left,top:top,width:W,height:H,show:true,borderColor:'#000',borderWidth:1,backgroundColor:'#fff'})
  xAxes.push({
    type:'value',gridIndex:i,min:0,max:100,interval:25,
    axisLine:{show:true,onZero:false,lineStyle:{color:'#000',width:1}},
    axisTick:{show:true,inside:true,length:3,lineStyle:{color:'#000'}},
    axisLabel:{color:'#000',fontSize:17,fontFamily:sans,margin:6,
      formatter:function(v){return xTicks.indexOf(v)>=0?String(v):''}},
    splitLine:{show:false}
  })
  yAxes.push({
    type:'value',gridIndex:i,min:0,max:33,interval:10,
    axisLine:{show:true,onZero:false,lineStyle:{color:'#000',width:1}},
    axisTick:{show:true,inside:true,length:3,lineStyle:{color:'#000'}},
    axisLabel:{color:'#000',fontSize:17,fontFamily:sans,margin:5,showMaxLabel:false,
      formatter:function(v){return yTicks.indexOf(v)>=0?String(v):''}},
    splitLine:{show:false}
  })
  series.push({
    type:'scatter',xAxisIndex:i,yAxisIndex:i,
    data:pairs(sets[i]),
    symbolSize:5,
    itemStyle:{color:'#0000ff',opacity:1},
    silent:true,animation:false,
    markLine:{
      silent:true,symbol:'none',animation:false,
      label:{show:false},
      lineStyle:{color:'#ff0000',width:1.3,type:'solid',opacity:1},
      data:[{xAxis:meanX[i]},{yAxis:meanY[i]}]
    }
  })
  titles.push({
    text:name,left:left+W/2,top:top-31,textAlign:'center',padding:0,
    textStyle:{color:'#000',fontSize:18.5,fontWeight:'normal',fontFamily:sans,lineHeight:20}
  })
})
titles.push({text:captions[0],left:340.5,top:548,textAlign:'center',padding:0,
  textStyle:{color:'#000',fontSize:20,fontWeight:'normal',fontFamily:'"Liberation Serif","Times New Roman",serif',lineHeight:22}})
titles.push({text:captions[1],left:340.5,top:1150.5,textAlign:'center',padding:0,
  textStyle:{color:'#000',fontSize:20,fontWeight:'normal',fontFamily:'"Liberation Serif","Times New Roman",serif',lineHeight:22}})

var myChart=echarts.init(document.getElementById('main'),null,{renderer:'canvas'})
myChart.setOption({
  backgroundColor:'#fff',
  animation:false,
  title:titles,
  grid:grids,
  xAxis:xAxes,
  yAxis:yAxes,
  series:series
})
window.onresize=myChart.resize
</script>
</body>
</html>
